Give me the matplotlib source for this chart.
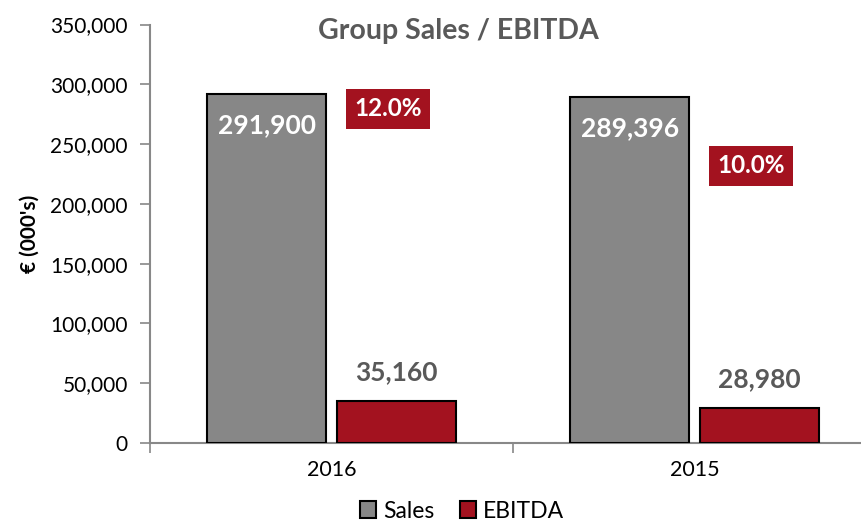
import matplotlib
matplotlib.use("Agg")
import matplotlib.pyplot as plt
import numpy as np
from matplotlib.ticker import FuncFormatter, MultipleLocator

plt.rcParams['font.family'] = ['Lato', 'DejaVu Sans']

years = ["2016", "2015"]
sales = [291900, 289396]
ebitda = [35160, 28980]
margin_label_y = [279500, 232000]

title = "Group Sales / EBITDA"
ylabel = "€ (000's)"

GRAY = "#878787"
RED = "#A3121F"
TXT = "#595959"

W, H = 861, 521
fig = plt.figure(figsize=(W / 100, H / 100), dpi=100)
ax = fig.add_axes([150 / W, (H - 443) / H, 726 / W, (443 - 24.5) / H])

x = np.arange(len(years)) + 0.5
bw = 0.328
off = 0.178
b1 = ax.bar(x - off, sales, bw, color=GRAY, edgecolor="black", linewidth=1.5, label="Sales", zorder=3)
b2 = ax.bar(x + off, ebitda, bw, color=RED, edgecolor="black", linewidth=1.5, label="EBITDA", zorder=3)

ax.set_xlim(0, 2)
ax.set_ylim(0, 350000)
ax.yaxis.set_major_locator(MultipleLocator(50000))
ax.yaxis.set_major_formatter(FuncFormatter(lambda v, p: f"{int(v):,}"))
ax.set_xticks([0, 1, 2])
ax.set_xticklabels([])
ax.set_xticks(x, minor=True)
ax.set_xticklabels(years, minor=True)
ax.tick_params(axis="x", which="minor", length=0, pad=12, labelsize=15.5)
ax.tick_params(axis="x", which="major", length=7, color="#888888", width=1.2)
ax.tick_params(axis="y", length=7, color="#888888", width=1.2, labelsize=15, pad=9)

for s in ["top", "right"]:
    ax.spines[s].set_visible(False)
for s in ["left", "bottom"]:
    ax.spines[s].set_color("#888888")
    ax.spines[s].set_linewidth(1.5)

ax.set_ylabel(ylabel, fontsize=15, fontweight="bold", labelpad=8)

for xi, v in zip(x - off, sales):
    ax.annotate(f"{v:,}", (xi, v), xytext=(0, -31), textcoords="offset pixels",
                ha="center", va="center", color="white", fontsize=19, fontweight="bold", zorder=4)
for xi, v in zip(x + off, ebitda):
    ax.annotate(f"{v:,}", (xi, v), xytext=(0, 29), textcoords="offset pixels",
                ha="center", va="center", color=TXT, fontsize=19, fontweight="bold", zorder=4)
for xi, s_, e_, ly in zip(x + off, sales, ebitda, margin_label_y):
    ax.annotate(f"{e_ / s_ * 100:.1f}%", (xi, ly), xytext=(-8, 0), textcoords="offset pixels",
                ha="center", va="center", color="white", fontsize=17.5, fontweight="bold", zorder=4,
                bbox=dict(boxstyle="square,pad=0.35", fc=RED, ec="none"))

fig.text(458 / W, 1 - 31 / H, title, ha="center", va="center", fontsize=20.5, fontweight="bold", color=TXT)

leg = fig.legend(handles=[b1, b2], loc="center", bbox_to_anchor=(462 / W, 1 - 511 / H), ncol=2,
                 frameon=False, fontsize=16.5, handlelength=0.7, handleheight=0.7,
                 handletextpad=0.3, columnspacing=1.1, borderpad=0)

fig.savefig("out.png", dpi=100)
